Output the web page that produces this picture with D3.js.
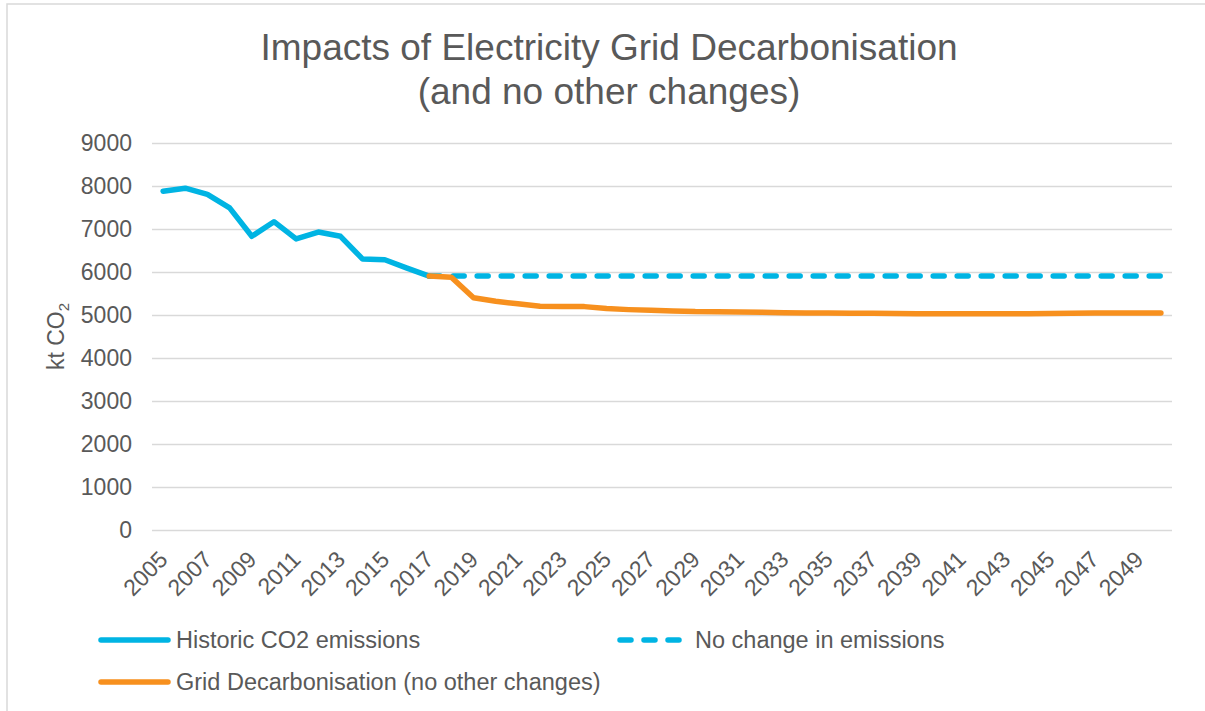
<!DOCTYPE html>
<html>
<head>
<meta charset="utf-8">
<script src="https://cdn.jsdelivr.net/npm/d3@7"></script>
<style>
  html, body { margin: 0; padding: 0; background: #fff; }
  svg { display: block; font-family: "Liberation Sans", Arial, sans-serif; }
</style>
</head>
<body>
<svg id="chart" width="1205" height="711"></svg>
<script>
const years = [2005,2006,2007,2008,2009,2010,2011,2012,2013,2014,2015,2016,2017,2018,2019,2020,
  2021,2022,2023,2024,2025,2026,2027,2028,2029,2030,2031,2032,2033,2034,2035,2036,2037,2038,
  2039,2040,2041,2042,2043,2044,2045,2046,2047,2048,2049,2050];
const tickYears = [2005,2007,2009,2011,2013,2015,2017,2019,2021,2023,2025,2027,2029,2031,2033,
  2035,2037,2039,2041,2043,2045,2047,2049];
const yTicks = [0,1000,2000,3000,4000,5000,6000,7000,8000,9000];

const historicYears = [2005,2006,2007,2008,2009,2010,2011,2012,2013,2014,2015,2016,2017];
const historic = [7880,7950,7805,7490,6830,7170,6770,6930,6830,6300,6285,6090,5905];

const projYears = [2017,2018,2019,2020,2021,2022,2023,2024,2025,2026,2027,2028,2029,2030,2031,
  2032,2033,2034,2035,2036,2037,2038,2039,2040,2041,2042,2043,2044,2045,2046,2047,2048,2049,2050];
const noChange = [5905,5905,5905,5905,5905,5905,5905,5905,5905,5905,5905,5905,5905,5905,5905,
  5905,5905,5905,5905,5905,5905,5905,5905,5905,5905,5905,5905,5905,5905,5905,5905,5905,5905,5905];
const gridDecarb = [5905,5880,5400,5320,5260,5205,5195,5195,5150,5125,5110,5095,5080,5078,5072,
  5062,5055,5048,5045,5042,5040,5035,5030,5030,5030,5030,5030,5030,5032,5042,5045,5045,5045,5045];

const seriesNames = ["Historic CO2 emissions","No change in emissions","Grid Decarbonisation (no other changes)"];
const title1 = "Impacts of Electricity Grid Decarbonisation";
const title2 = "(and no other changes)";

const BLUE = "#00b4e3", ORANGE = "#f7901e", TEXT = "#595959", GRID = "#d9d9d9";

const svg = d3.select("#chart");
const L = 152, R = 1172, T = 143, B = 530;

// chart border
svg.append("rect").attr("x", 7).attr("y", 4).attr("width", 1220).attr("height", 730)
  .attr("fill", "none").attr("stroke", GRID).attr("stroke-width", 1.5);

const x = d3.scaleBand().domain(years).range([L, R]);
const xc = d => x(d) + x.bandwidth() / 2;
const y = d3.scaleLinear().domain([0, 9000]).range([B, T]);

// gridlines + y labels
const yAxis = svg.append("g").attr("transform", `translate(${L},0)`)
  .call(d3.axisLeft(y).tickValues(yTicks).tickSize(-(R - L)).tickPadding(20).tickFormat(d3.format("d")));
yAxis.select(".domain").remove();
yAxis.selectAll(".tick line").attr("stroke", GRID).attr("stroke-width", 1.5);
yAxis.selectAll(".tick text").attr("fill", TEXT).style("font-size", "23px")
  .style("font-family", "'Liberation Sans', Arial, sans-serif");

// x axis labels
const xAxis = svg.append("g").attr("transform", `translate(0,${B})`)
  .call(d3.axisBottom(x).tickValues(tickYears).tickSize(0).tickPadding(0));
xAxis.select(".domain").remove();
xAxis.selectAll(".tick text")
  .attr("fill", TEXT).style("font-size", "23px")
  .style("font-family", "'Liberation Sans', Arial, sans-serif")
  .attr("text-anchor", "end").attr("dy", 0).attr("y", 0)
  .attr("transform", "translate(6,31) rotate(-45)");

// lines
const lineGen = (xs) => d3.line().x((d, i) => xc(xs[i])).y(d => y(d));
svg.append("path").datum(historic).attr("d", lineGen(historicYears))
  .attr("fill", "none").attr("stroke", BLUE).attr("stroke-width", 5.5)
  .attr("stroke-linejoin", "round").attr("stroke-linecap", "round");
svg.append("path").datum(noChange).attr("d", lineGen(projYears))
  .attr("fill", "none").attr("stroke", BLUE).attr("stroke-width", 5.5)
  .attr("stroke-dasharray", "11,13").attr("stroke-linecap", "round");
svg.append("path").datum(gridDecarb).attr("d", lineGen(projYears))
  .attr("fill", "none").attr("stroke", ORANGE).attr("stroke-width", 5.5)
  .attr("stroke-linejoin", "round").attr("stroke-linecap", "round");

// title
svg.append("text").attr("x", 609).attr("y", 60).attr("text-anchor", "middle")
  .attr("fill", TEXT).style("font-size", "37px").text(title1);
svg.append("text").attr("x", 609).attr("y", 104).attr("text-anchor", "middle")
  .attr("fill", TEXT).style("font-size", "37px").text(title2);

// y axis title
const yt = svg.append("text").attr("transform", `translate(64,${(T + B) / 2}) rotate(-90)`)
  .attr("text-anchor", "middle").attr("fill", TEXT).style("font-size", "23px");
yt.append("tspan").text("kt CO");
yt.append("tspan").attr("dy", 5).style("font-size", "15px").text("2");

// legend
const legend = [
  {name: seriesNames[0], color: BLUE, dash: null, x: 98, y: 640},
  {name: seriesNames[1], color: BLUE, dash: "11,13", x: 617, y: 640},
  {name: seriesNames[2], color: ORANGE, dash: null, x: 98, y: 682}
];
legend.forEach(it => {
  const g = svg.append("g");
  g.append("line").attr("x1", it.x + 3).attr("x2", it.x + 70).attr("y1", it.y).attr("y2", it.y)
    .attr("stroke", it.color).attr("stroke-width", 5.5).attr("stroke-linecap", "round")
    .attr("stroke-dasharray", it.dash);
  g.append("text").attr("x", it.x + 78).attr("y", it.y + 8).attr("fill", TEXT)
    .style("font-size", "23.5px").text(it.name);
});
</script>
</body>
</html>
